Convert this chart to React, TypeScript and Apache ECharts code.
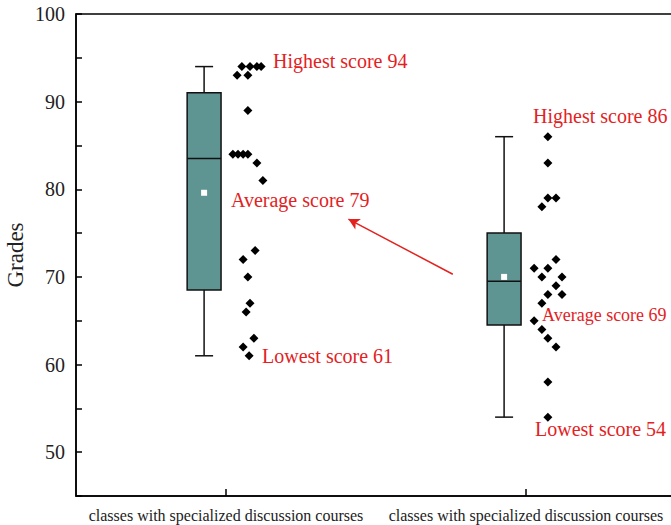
import React, { useEffect, useRef } from "react";
import * as echarts from "echarts";

const categories = [
  "classes with specialized discussion courses",
  "classes with specialized discussion courses",
];

// box statistics: [min, q1, median, q3, max, mean]
const boxStats = [
  [61, 68.5, 83.5, 91, 94, 79.6],
  [54, 64.5, 69.5, 75, 86, 70],
];

// raw scores (jittered columns beside each box)
const scores1 = [94, 94, 94, 94, 93, 93, 89, 84, 84, 84, 84, 83, 81, 73, 72, 70, 67, 66, 63, 62, 61];
const jitter1 = [0.053, 0.08, 0.103, 0.117, 0.037, 0.073, 0.073, 0.023, 0.04, 0.057, 0.073, 0.103, 0.123, 0.097, 0.057, 0.073, 0.08, 0.067, 0.093, 0.057, 0.077];
const scores2 = [86, 83, 78, 79, 79, 72, 71, 71, 70, 70, 69, 68, 68, 67, 65, 64, 63, 62, 58, 54];
const jitter2 = [0.073, 0.073, 0.053, 0.073, 0.1, 0.1, 0.027, 0.073, 0.053, 0.12, 0.1, 0.073, 0.12, 0.053, 0.027, 0.053, 0.073, 0.1, 0.073, 0.073];

const highLabels = ["Highest score 94", "Highest score 86"];
const avgLabels = ["Average score 79", "Average score 69"];
const lowLabels = ["Lowest score 61", "Lowest score 54"];

const yTicks = [50, 60, 70, 80, 90, 100];

const FONT = "'Liberation Serif', 'Times New Roman', serif";
const RED = "#e3221f";
const BOX_OFFSET = -0.073;
const BOX_W = 0.113;
const CAP_W = 0.06;

export default function App() {
  const ref = useRef<HTMLDivElement>(null);
  useEffect(() => {
    if (!ref.current) return;
    const chart = echarts.init(ref.current, null, { renderer: "svg" });
    const boxData = boxStats.map((s, i) => [i + 0.5 + BOX_OFFSET, ...s]);
    const pts = [
      ...scores1.map((v, i) => [0.5 + jitter1[i], v]),
      ...scores2.map((v, i) => [1.5 + jitter2[i], v]),
    ];
    const txt = (text: string, x: number, y: number, size = 20) => ({
      type: "text",
      left: x,
      top: y - size / 2 - 1,
      style: { text, fill: RED, font: `${size}px ${FONT}` },
      z: 10,
    });
    const option: any = {
      animation: false,
      grid: {
        left: 76,
        right: 24,
        top: 14,
        bottom: 29,
        containLabel: false,
        outerBoundsMode: "none",
        show: true,
        borderColor: "#000",
        borderWidth: 1.5,
      },
      xAxis: [
        {
          type: "category",
          data: categories.map((_, i) => String(i)),
          axisLine: { show: true, lineStyle: { color: "#000", width: 1.5 } },
          axisTick: { show: true, alignWithLabel: true, inside: true, length: 7, lineStyle: { color: "#000", width: 1.5 } },
          axisLabel: {
            interval: 0,
            fontFamily: FONT,
            fontSize: 16,
            color: "#222",
            margin: 11,
            formatter: (v: string) => categories[Number(v)],
          },
          splitLine: { show: false },
        },
        { type: "value", min: 0, max: 2, show: false },
      ],
      yAxis: {
        type: "value",
        min: 45,
        max: 100,
        interval: 5,
        name: "Grades",
        nameLocation: "middle",
        nameGap: 49,
        nameMoveOverlap: false,
        nameTextStyle: { fontFamily: FONT, fontSize: 23, color: "#222" },
        axisLine: { show: true, lineStyle: { color: "#000", width: 1.5 } },
        axisTick: { show: true, inside: true, length: 6, lineStyle: { color: "#000", width: 1.5 } },
        axisLabel: {
          fontFamily: FONT,
          fontSize: 20,
          color: "#222",
          margin: 11,
          formatter: (v: number) => (yTicks.includes(v) ? String(v) : ""),
        },
        splitLine: { show: false },
      },
      series: [
        {
          type: "custom",
          xAxisIndex: 1,
          data: boxData,
          encode: { x: 0, y: [1, 2, 3, 4, 5] },
          renderItem: (params: any, api: any) => {
            const x = api.value(0);
            const p = (v: number) => api.coord([x, v]);
            const lo = p(api.value(1));
            const q1 = p(api.value(2));
            const med = p(api.value(3));
            const q3 = p(api.value(4));
            const hi = p(api.value(5));
            const mean = p(api.value(6));
            const hw = api.size([BOX_W, 0])[0] / 2;
            const cw = api.size([CAP_W, 0])[0] / 2;
            const ls = { stroke: "#111", lineWidth: 1.5 };
            return {
              type: "group",
              children: [
                { type: "line", shape: { x1: hi[0], y1: hi[1], x2: q3[0], y2: q3[1] }, style: ls },
                { type: "line", shape: { x1: q1[0], y1: q1[1], x2: lo[0], y2: lo[1] }, style: ls },
                { type: "line", shape: { x1: hi[0] - cw, y1: hi[1], x2: hi[0] + cw, y2: hi[1] }, style: ls },
                { type: "line", shape: { x1: lo[0] - cw, y1: lo[1], x2: lo[0] + cw, y2: lo[1] }, style: ls },
                {
                  type: "rect",
                  shape: { x: q3[0] - hw, y: q3[1], width: hw * 2, height: q1[1] - q3[1] },
                  style: { fill: "#5e9593", stroke: "#111", lineWidth: 1.5 },
                },
                { type: "line", shape: { x1: med[0] - hw, y1: med[1], x2: med[0] + hw, y2: med[1] }, style: ls },
                {
                  type: "rect",
                  shape: { x: mean[0] - 3, y: mean[1] - 3, width: 6, height: 6 },
                  style: { fill: "#fff" },
                },
              ],
            };
          },
          z: 2,
        },
        {
          type: "scatter",
          xAxisIndex: 1,
          data: pts,
          symbol: "diamond",
          symbolSize: 9,
          itemStyle: { color: "#000", opacity: 1 },
          z: 3,
          markLine: {
            silent: true,
            symbol: ["none", "arrow"],
            symbolSize: [9, 11],
            label: { show: false },
            lineStyle: { color: RED, width: 1.5, type: "solid" },
            data: [[{ coord: [1.256, 70.3] }, { coord: [0.908, 76.6] }]],
          },
        },
      ],
      graphic: [
        txt(highLabels[0], 273, 62),
        txt(avgLabels[0], 231, 201),
        txt(lowLabels[0], 262, 357),
        txt(highLabels[1], 533, 117),
        txt(avgLabels[1], 542, 316, 18),
        txt(lowLabels[1], 535, 430),
      ],
    };
    chart.setOption(option);
    return () => chart.dispose();
  }, []);
  return (
    <div style={{ position: "fixed", left: 0, top: 0, width: 671, height: 525, overflow: "hidden", background: "#fff" }}>
      <div ref={ref} style={{ width: 700, height: 525 }} />
    </div>
  );
}
